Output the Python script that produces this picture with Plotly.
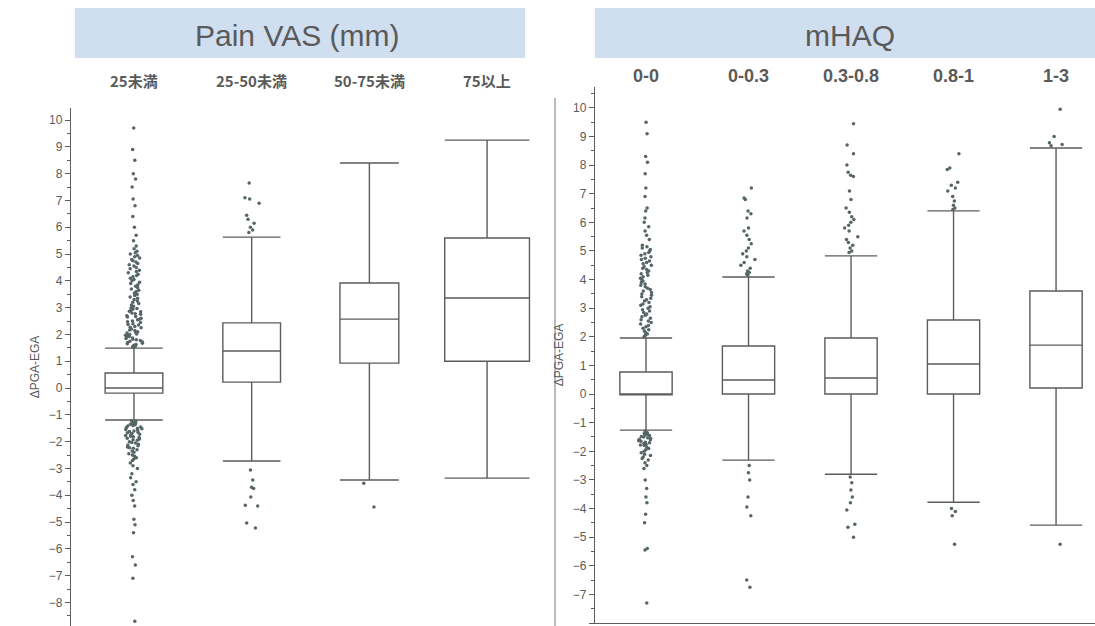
import plotly.graph_objects as go

# ---------------- data ----------------
pain_labels = ["25未満", "25-50未満", "50-75未満", "75以上"]
pain_pos = [1, 2, 3, 4]
pain_width = [0.49, 0.49, 0.50, 0.72]
pain_q1 = [-0.19, 0.22, 0.93, 1.00]
pain_median = [0.00, 1.38, 2.57, 3.36]
pain_q3 = [0.56, 2.43, 3.92, 5.60]
pain_lower = [-1.19, -2.72, -3.43, -3.36]
pain_upper = [1.49, 5.63, 8.40, 9.25]
pain_outliers = [
    [9.7, 8.9, 8.5, 8.0, 7.8, 7.5, 7.05, 6.8, 6.4, 6.0, 5.7, 5.5,
     5.3, 5.2, 5.1, 5.05, 5.0, 4.95, 4.9, 4.85, 4.8, 4.75, 4.7, 4.65, 4.6,
     4.55, 4.5, 4.45, 4.4, 4.35, 4.3, 4.25, 4.2, 4.15, 4.1, 4.05, 4.0, 3.95,
     3.9, 3.85, 3.8, 3.75, 3.7, 3.65, 3.6, 3.55, 3.5, 3.45, 3.4, 3.35, 3.3,
     3.25, 3.2, 3.15, 3.1, 3.05, 3.0, 2.97, 2.95, 2.9, 2.87, 2.85, 2.8,
     2.77, 2.75, 2.7, 2.67, 2.65, 2.6, 2.57, 2.55, 2.5, 2.47, 2.45, 2.4,
     2.37, 2.35, 2.3, 2.27, 2.25, 2.2, 2.17, 2.15, 2.1, 2.07, 2.05, 2.02,
     2.0, 1.97, 1.95, 1.92, 1.9, 1.87, 1.85, 1.82, 1.8, 1.77, 1.75, 1.72,
     1.7, 1.67, 1.65, 1.62, 1.6, 1.57, 1.55, 1.53,
     -1.22, -1.25, -1.27, -1.3, -1.32, -1.35, -1.37, -1.4, -1.42, -1.45,
     -1.47, -1.5, -1.52, -1.55, -1.57, -1.6, -1.62, -1.65, -1.67, -1.7,
     -1.72, -1.75, -1.77, -1.8, -1.82, -1.85, -1.87, -1.9, -1.93, -1.95,
     -2.0, -2.03, -2.05, -2.1, -2.13, -2.15, -2.2, -2.23, -2.25, -2.3,
     -2.35, -2.4, -2.45, -2.5, -2.55, -2.6, -2.65, -2.7, -2.8, -2.9,
     -3.0, -3.2, -3.35, -3.5, -3.6, -3.8, -4.0, -4.2, -4.4, -4.9, -5.1,
     -5.4, -6.3, -6.6, -7.1, -8.7],
    [7.65, 7.1, 7.05, 6.9, 6.45, 6.3, 6.15, 6.0, 5.9, 5.8,
     -3.06, -3.43, -3.7, -3.75, -4.07, -4.37, -4.4, -5.04, -5.22],
    [-3.55, -4.44],
    [],
]

haq_labels = ["0-0", "0-0.3", "0.3-0.8", "0.8-1", "1-3"]
haq_pos = [1, 2, 3, 4, 5]
haq_q1 = [-0.03, 0.00, 0.00, 0.00, 0.21]
haq_median = [0.00, 0.49, 0.56, 1.05, 1.71]
haq_q3 = [0.77, 1.68, 1.96, 2.59, 3.60]
haq_lower = [-1.26, -2.31, -2.80, -3.78, -4.58]
haq_upper = [1.96, 4.09, 4.83, 6.40, 8.60]
haq_outliers = [
    [9.5, 9.1, 8.3, 8.1, 7.7, 7.2, 6.9, 6.5, 6.4, 6.15, 6.0, 5.85, 5.7,
     5.55, 5.4, 5.2, 5.15, 5.1, 5.05, 5.0, 4.95, 4.9, 4.85, 4.8, 4.75,
     4.7, 4.65, 4.6, 4.55, 4.5, 4.45, 4.4, 4.35, 4.3, 4.25, 4.2, 4.15,
     4.1, 4.05, 4.0, 3.95, 3.9, 3.85, 3.8, 3.75, 3.7, 3.65, 3.6, 3.55,
     3.5, 3.45, 3.4, 3.35, 3.3, 3.25, 3.2, 3.15, 3.1, 3.05, 3.0, 2.95,
     2.9, 2.85, 2.8, 2.75, 2.7, 2.65, 2.6, 2.55, 2.5, 2.45, 2.4, 2.35,
     2.3, 2.25, 2.2, 2.15, 2.1, 2.05, 2.0,
     -1.3, -1.33, -1.35, -1.38, -1.4, -1.43, -1.45, -1.48, -1.5, -1.53,
     -1.55, -1.58, -1.6, -1.63, -1.65, -1.68, -1.7, -1.73, -1.75, -1.78,
     -1.8, -1.85, -1.9, -1.95, -2.0, -2.05, -2.1, -2.15, -2.2, -2.25,
     -2.3, -2.4, -2.5, -2.6, -3.0, -3.3, -3.6, -3.8, -4.2, -4.5, -5.4,
     -5.45, -7.3],
    [7.2, 6.85, 6.8, 6.4, 6.3, 6.15, 5.8, 5.7, 5.55, 5.4, 5.25, 5.1, 5.0,
     4.9, 4.8, 4.7, 4.6, 4.5, 4.4, 4.3, 4.25, 4.2, 4.15,
     -2.5, -2.75, -3.0, -3.6, -3.95, -4.25, -6.5, -6.75],
    [9.45, 8.7, 8.4, 8.0, 7.75, 7.65, 7.6, 7.1, 6.8, 6.5, 6.35, 6.2, 6.1,
     6.0, 5.9, 5.8, 5.7, 5.5, 5.4, 5.3, 5.2, 5.1, 5.0, 4.95,
     -2.9, -3.1, -3.35, -3.6, -3.8, -4.05, -4.55, -4.65, -5.0],
    [8.4, 7.9, 7.85, 7.4, 7.3, 7.2, 7.1, 6.9, 6.75, 6.6, 6.5, 6.45,
     -4.0, -4.1, -4.25, -5.25],
    [9.95, 9.0, 8.78, 8.72, 8.68, -5.25],
]

y_title = "ΔPGA-EGA"
panel_titles = ["Pain VAS (mm)", "mHAQ"]

# ---------------- styling ----------------
LINE = "#5c5c5c"
PT = "#566565"
TXT = "#5a5a5a"
W, H = 1095, 626


def px(x):
    return x / W


def py(y):
    return 1 - y / H


def box_trace(pos, q1, med, q3, lo, hi, pts, width, xa, ya):
    kw = dict(
        x=[pos], q1=[q1], median=[med], q3=[q3], lowerfence=[lo], upperfence=[hi],
        width=width, whiskerwidth=1,
        line=dict(color=LINE, width=1.4), fillcolor="rgba(255,255,255,0)",
        marker=dict(color=PT, size=3.5), xaxis=xa, yaxis=ya, showlegend=False,
    )
    if pts:
        kw.update(y=[pts], boxpoints="all", jitter=0.3, pointpos=0)
    else:
        kw.update(boxpoints=False)
    return go.Box(**kw)


fig = go.Figure()

for i in range(len(pain_pos)):
    fig.add_trace(box_trace(pain_pos[i], pain_q1[i], pain_median[i], pain_q3[i],
                            pain_lower[i], pain_upper[i], pain_outliers[i],
                            pain_width[i], "x", "y"))

for i in range(len(haq_pos)):
    fig.add_trace(box_trace(haq_pos[i], haq_q1[i], haq_median[i], haq_q3[i],
                            haq_lower[i], haq_upper[i], haq_outliers[i],
                            0.51, "x2", "y2"))

yaxis_common = dict(
    showgrid=False, zeroline=False, showline=True, linecolor=LINE, linewidth=1.3,
    ticks="outside", ticklen=5, tickcolor=LINE, dtick=1,
    minor=dict(ticks="outside", ticklen=3, dtick=0.5, tickcolor=LINE),
    tickfont=dict(family="Liberation Sans Narrow, Liberation Sans, Arial", size=12, color=TXT),
    title=dict(text=y_title, font=dict(family="Liberation Sans Narrow, Liberation Sans", size=12, color=TXT), standoff=6),
)

fig.update_layout(
    width=W, height=H,
    margin=dict(l=0, r=0, t=0, b=0),
    paper_bgcolor="white", plot_bgcolor="white",
    xaxis=dict(domain=[px(71), px(555)], range=[0.465, 4.577], showticklabels=False,
               showgrid=False, zeroline=False, showline=False, ticks=""),
    yaxis=dict(domain=[0, py(108)], range=[-8.88, 10.45], **yaxis_common),
    xaxis2=dict(domain=[px(595), 1.0], range=[0.5024, 5.38], showticklabels=False,
                showgrid=False, zeroline=False, showline=True, linecolor=LINE, linewidth=1.3,
                ticks="", anchor="y2"),
    yaxis2=dict(domain=[py(623), py(87)], range=[-8.0, 10.73], anchor="x2", **yaxis_common),
)

# header bars
fig.add_shape(type="rect", xref="paper", yref="paper", x0=px(75), x1=px(525), y0=py(58), y1=py(8),
              fillcolor="#cfdff0", line=dict(width=0), layer="below")
fig.add_shape(type="rect", xref="paper", yref="paper", x0=px(595), x1=px(1095), y0=py(58), y1=py(8),
              fillcolor="#cfdff0", line=dict(width=0), layer="below")
# right frame of left panel
fig.add_shape(type="line", xref="paper", yref="paper", x0=px(555), x1=px(555), y0=0, y1=py(98),
              line=dict(color="#777777", width=1))

fig.add_annotation(text=panel_titles[0], xref="paper", yref="paper", x=px(297), y=py(36),
                   xanchor="center", yanchor="middle", showarrow=False,
                   font=dict(family="Liberation Sans Narrow, Liberation Sans", size=30, color=TXT))
fig.add_annotation(text=panel_titles[1], xref="paper", yref="paper", x=px(850), y=py(36),
                   xanchor="center", yanchor="middle", showarrow=False,
                   font=dict(family="Liberation Sans Narrow, Liberation Sans", size=30, color=TXT))

for p, lab in zip(pain_pos, pain_labels):
    fig.add_annotation(text="<b>" + lab + "</b>", xref="x", yref="paper", x=p, y=py(81),
                       xanchor="center", yanchor="middle", showarrow=False,
                       font=dict(family="Noto Sans CJK JP", size=15, color=TXT))
for p, lab in zip(haq_pos, haq_labels):
    fig.add_annotation(text="<b>" + lab + "</b>", xref="x2", yref="paper", x=p, y=py(76),
                       xanchor="center", yanchor="middle", showarrow=False,
                       font=dict(family="Liberation Sans", size=18, color=TXT))

fig.write_html("out.html")
